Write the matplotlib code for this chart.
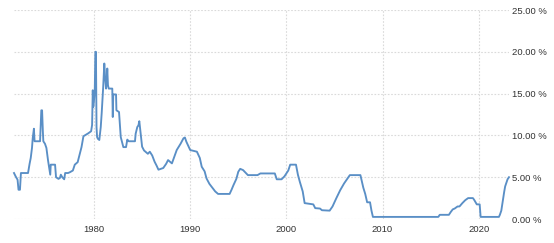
import numpy as np
import matplotlib.pyplot as plt

# rate history (year, percent)
years = [1971.68, 1971.85, 1972.05, 1972.15, 1972.3, 1972.4, 1973.14,
         1973.3, 1973.42, 1973.55, 1973.63, 1973.75, 1973.82, 1973.97, 1974.39,
         1974.45, 1974.52, 1974.6, 1974.68, 1974.73, 1974.9, 1975.05, 1975.22,
         1975.35, 1975.45, 1975.5, 1975.6, 1975.95, 1976.05, 1976.3, 1976.45,
         1976.55, 1976.7, 1976.9, 1977.0, 1977.3, 1977.5, 1977.8, 1978.0,
         1978.3, 1978.5, 1978.7, 1978.9, 1979.4, 1979.7, 1979.8, 1979.87,
         1979.92, 1980.0, 1980.08, 1980.14, 1980.2, 1980.26, 1980.32, 1980.4,
         1980.55, 1980.7, 1980.8, 1980.95, 1981.07, 1981.15, 1981.25, 1981.32,
         1981.38, 1981.45, 1981.53, 1981.9, 1981.95, 1982.0, 1982.29, 1982.33,
         1982.6, 1982.78, 1983.05, 1983.33, 1983.46, 1983.6, 1984.26, 1984.33,
         1984.5, 1984.62, 1984.71, 1984.85, 1985.0, 1985.2, 1985.4, 1985.6,
         1985.8, 1986.05, 1986.3, 1986.5, 1986.7, 1987.2, 1987.5, 1987.7,
         1988.1, 1988.6, 1989.0, 1989.3, 1989.45, 1989.6, 1990.0, 1990.7,
         1991.0, 1991.2, 1991.5, 1991.7, 1992.0, 1992.2, 1992.6, 1992.9,
         1994.1, 1994.3, 1994.5, 1994.8, 1995.0, 1995.2, 1995.5, 1996.0,
         1997.0, 1997.3, 1998.8, 1999.0, 1999.5, 1999.8, 2000.0, 2000.2,
         2000.4, 2001.0, 2001.2, 2001.4, 2001.7, 2001.9, 2002.8, 2003.0,
         2003.5, 2003.7, 2004.5, 2004.8, 2005.2, 2005.6, 2006.0, 2006.3,
         2006.6, 2007.7, 2007.85, 2008.0, 2008.2, 2008.4, 2008.7, 2008.85,
         2009.0, 2015.8, 2015.95, 2016.9, 2017.1, 2017.3, 2017.5, 2017.8,
         2018.0, 2018.3, 2018.6, 2018.9, 2019.4, 2019.55, 2019.7, 2019.8,
         2020.1, 2020.2, 2022.1, 2022.2, 2022.35, 2022.45, 2022.55, 2022.65,
         2022.75, 2022.9, 2023.0, 2023.15]
rates = [5.5, 5.1, 4.7, 3.5, 3.5, 5.5, 5.5,
         6.6, 7.3, 8.5, 9.7, 10.8, 9.3, 9.3, 9.3,
         11.0, 13.0, 13.0, 10.5, 9.3, 9.0, 8.5, 7.0,
         6.0, 5.3, 6.5, 6.5, 6.5, 5.0, 4.8, 4.9,
         5.3, 5.0, 4.75, 5.5, 5.5, 5.6, 5.8, 6.5,
         6.8, 7.7, 8.6, 9.9, 10.25, 10.5, 11.25, 15.4,
         13.4, 14.2, 15.5, 20.0, 20.0, 11.0, 9.8, 9.6,
         9.45, 11.0, 12.7, 15.7, 18.6, 17.0, 15.6, 16.5,
         18.0, 16.0, 15.6, 15.6, 12.2, 14.9, 14.9, 13.0,
         12.8, 9.8, 8.6, 8.6, 9.5, 9.3, 9.3, 10.2,
         11.0, 11.2, 11.7, 10.2, 8.65, 8.2, 8.0, 7.8,
         8.05, 7.6, 6.85, 6.4, 5.9, 6.1, 6.6, 7.05,
         6.65, 8.25, 9.0, 9.65, 9.75, 9.25, 8.25, 8.05,
         7.3, 6.25, 5.7, 4.85, 4.2, 3.9, 3.3, 3.0,
         3.0, 3.5, 4.05, 4.8, 5.65, 6.0, 5.85, 5.25,
         5.25, 5.45, 5.45, 4.75, 4.75, 5.1, 5.45, 5.8,
         6.5, 6.5, 5.3, 4.45, 3.3, 1.9, 1.75, 1.3,
         1.25, 1.05, 1.0, 1.5, 2.5, 3.45, 4.25, 4.75,
         5.25, 5.25, 4.5, 3.75, 3.0, 2.0, 2.0, 1.0,
         0.25, 0.25, 0.5, 0.5, 0.85, 1.15, 1.25, 1.5,
         1.5, 1.9, 2.25, 2.5, 2.5, 2.25, 1.95, 1.75,
         1.75, 0.25, 0.25, 0.5, 1.0, 1.75, 2.5, 3.25,
         3.9, 4.4, 4.75, 5.0]

x_ticks = [1980, 1990, 2000, 2010, 2020]
y_ticks = [0, 5, 10, 15, 20, 25]
y_labels = ['%.2f %%' % v for v in y_ticks]

plt.rcParams['font.family'] = ['Liberation Sans', 'DejaVu Sans']

fig = plt.figure(figsize=(5.54, 2.43), dpi=100)
ax = fig.add_axes([14/554, 1 - 219/243, 495/554, 209/243])

ax.plot(years, rates, color='#5a8fc6', linewidth=1.35, clip_on=False, zorder=3)

ax.set_xlim(1971.68, 2023.15)
ax.set_ylim(0, 25)
ax.set_xticks(x_ticks)
ax.set_yticks(y_ticks)
ax.set_yticklabels(y_labels)
ax.yaxis.tick_right()
ax.tick_params(axis='x', length=0, pad=4.5, labelsize=6.8, labelcolor='#333333')
ax.tick_params(axis='y', length=0, pad=2, labelsize=6.8, labelcolor='#333333')
ax.grid(True, color='#dadada', linestyle=(0, (1.5, 1.5)), linewidth=0.8)
ax.set_axisbelow(True)
for s in ax.spines.values():
    s.set_visible(False)

fig.savefig('out.png', dpi=100)
